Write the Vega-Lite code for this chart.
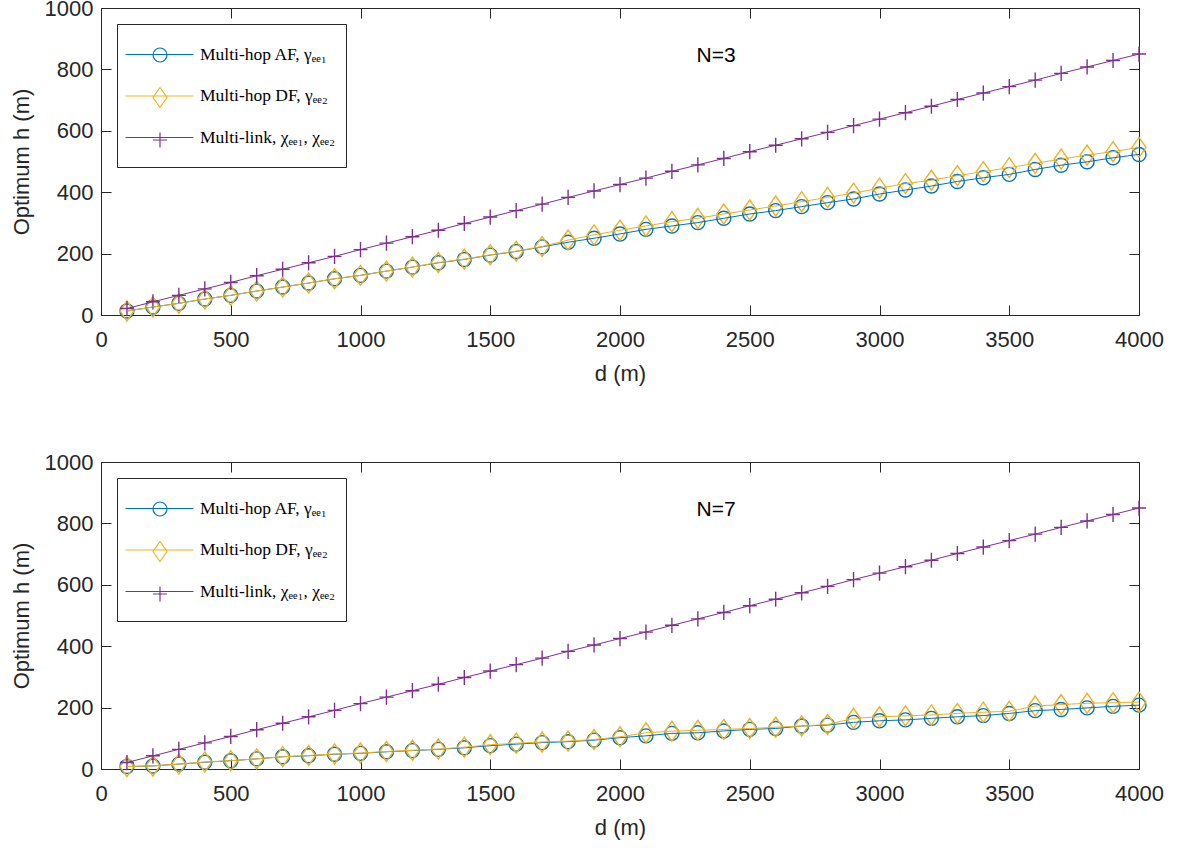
{
  "$schema": "https://vega.github.io/schema/vega-lite/v6.json",
  "padding": {"left": 9, "top": -4, "right": 5, "bottom": 5},
  "background": "white",
  "datasets": {
    "main": [
      {"N":3,"d":100,"AF":13,"DF":13,"ML":21},
      {"N":3,"d":200,"AF":26,"DF":26,"ML":43},
      {"N":3,"d":300,"AF":38,"DF":38,"ML":64},
      {"N":3,"d":400,"AF":52,"DF":52,"ML":85},
      {"N":3,"d":500,"AF":64,"DF":64,"ML":106},
      {"N":3,"d":600,"AF":78,"DF":78,"ML":128},
      {"N":3,"d":700,"AF":91,"DF":91,"ML":149},
      {"N":3,"d":800,"AF":104,"DF":104,"ML":170},
      {"N":3,"d":900,"AF":118,"DF":118,"ML":191},
      {"N":3,"d":1000,"AF":129,"DF":129,"ML":213},
      {"N":3,"d":1100,"AF":143,"DF":143,"ML":234},
      {"N":3,"d":1200,"AF":156,"DF":156,"ML":255},
      {"N":3,"d":1300,"AF":170,"DF":171,"ML":276},
      {"N":3,"d":1400,"AF":181,"DF":182,"ML":298},
      {"N":3,"d":1500,"AF":195,"DF":196,"ML":319},
      {"N":3,"d":1600,"AF":207,"DF":208,"ML":340},
      {"N":3,"d":1700,"AF":222,"DF":223,"ML":361},
      {"N":3,"d":1800,"AF":237,"DF":244,"ML":383},
      {"N":3,"d":1900,"AF":250,"DF":261,"ML":404},
      {"N":3,"d":2000,"AF":264,"DF":276,"ML":425},
      {"N":3,"d":2100,"AF":279,"DF":290,"ML":446},
      {"N":3,"d":2200,"AF":290,"DF":304,"ML":468},
      {"N":3,"d":2300,"AF":301,"DF":315,"ML":489},
      {"N":3,"d":2400,"AF":315,"DF":329,"ML":510},
      {"N":3,"d":2500,"AF":329,"DF":342,"ML":532},
      {"N":3,"d":2600,"AF":340,"DF":355,"ML":553},
      {"N":3,"d":2700,"AF":353,"DF":369,"ML":574},
      {"N":3,"d":2800,"AF":366,"DF":383,"ML":595},
      {"N":3,"d":2900,"AF":378,"DF":397,"ML":617},
      {"N":3,"d":3000,"AF":394,"DF":413,"ML":638},
      {"N":3,"d":3100,"AF":407,"DF":428,"ML":659},
      {"N":3,"d":3200,"AF":420,"DF":439,"ML":680},
      {"N":3,"d":3300,"AF":435,"DF":454,"ML":702},
      {"N":3,"d":3400,"AF":447,"DF":467,"ML":723},
      {"N":3,"d":3500,"AF":458,"DF":480,"ML":744},
      {"N":3,"d":3600,"AF":474,"DF":494,"ML":765},
      {"N":3,"d":3700,"AF":488,"DF":508,"ML":787},
      {"N":3,"d":3800,"AF":499,"DF":521,"ML":808},
      {"N":3,"d":3900,"AF":512,"DF":532,"ML":829},
      {"N":3,"d":4000,"AF":523,"DF":546,"ML":850},
      {"N":7,"d":100,"AF":8,"DF":8,"ML":21},
      {"N":7,"d":200,"AF":10,"DF":10,"ML":43},
      {"N":7,"d":300,"AF":16,"DF":16,"ML":64},
      {"N":7,"d":400,"AF":22,"DF":23,"ML":85},
      {"N":7,"d":500,"AF":27,"DF":27,"ML":106},
      {"N":7,"d":600,"AF":33,"DF":33,"ML":128},
      {"N":7,"d":700,"AF":40,"DF":40,"ML":149},
      {"N":7,"d":800,"AF":43,"DF":44,"ML":170},
      {"N":7,"d":900,"AF":48,"DF":49,"ML":191},
      {"N":7,"d":1000,"AF":51,"DF":52,"ML":213},
      {"N":7,"d":1100,"AF":56,"DF":57,"ML":234},
      {"N":7,"d":1200,"AF":60,"DF":61,"ML":255},
      {"N":7,"d":1300,"AF":64,"DF":65,"ML":276},
      {"N":7,"d":1400,"AF":69,"DF":71,"ML":298},
      {"N":7,"d":1500,"AF":76,"DF":79,"ML":319},
      {"N":7,"d":1600,"AF":81,"DF":84,"ML":340},
      {"N":7,"d":1700,"AF":86,"DF":88,"ML":361},
      {"N":7,"d":1800,"AF":89,"DF":91,"ML":383},
      {"N":7,"d":1900,"AF":94,"DF":96,"ML":404},
      {"N":7,"d":2000,"AF":102,"DF":105,"ML":425},
      {"N":7,"d":2100,"AF":108,"DF":118,"ML":446},
      {"N":7,"d":2200,"AF":116,"DF":123,"ML":468},
      {"N":7,"d":2300,"AF":118,"DF":126,"ML":489},
      {"N":7,"d":2400,"AF":124,"DF":129,"ML":510},
      {"N":7,"d":2500,"AF":129,"DF":132,"ML":532},
      {"N":7,"d":2600,"AF":132,"DF":136,"ML":553},
      {"N":7,"d":2700,"AF":140,"DF":140,"ML":574},
      {"N":7,"d":2800,"AF":143,"DF":145,"ML":595},
      {"N":7,"d":2900,"AF":152,"DF":165,"ML":617},
      {"N":7,"d":3000,"AF":157,"DF":170,"ML":638},
      {"N":7,"d":3100,"AF":160,"DF":173,"ML":659},
      {"N":7,"d":3200,"AF":165,"DF":176,"ML":680},
      {"N":7,"d":3300,"AF":170,"DF":181,"ML":702},
      {"N":7,"d":3400,"AF":174,"DF":185,"ML":723},
      {"N":7,"d":3500,"AF":181,"DF":188,"ML":744},
      {"N":7,"d":3600,"AF":190,"DF":205,"ML":765},
      {"N":7,"d":3700,"AF":194,"DF":210,"ML":787},
      {"N":7,"d":3800,"AF":199,"DF":214,"ML":808},
      {"N":7,"d":3900,"AF":204,"DF":216,"ML":829},
      {"N":7,"d":4000,"AF":208,"DF":218,"ML":850}
    ]
  },
  "config": {
    "font": "Liberation Sans",
    "view": {"stroke": "#262626", "strokeWidth": 1},
    "axis": {
      "grid": false,
      "domain": false,
      "tickSize": -10,
      "tickColor": "#262626",
      "tickWidth": 1,
      "format": "d",
      "labelFlush": false,
      "labelColor": "#262626",
      "labelFont": "Liberation Sans",
      "labelFontSize": 22,
      "titleFont": "Liberation Sans",
      "titleFontSize": 22,
      "titleFontWeight": "normal",
      "titleColor": "#262626"
    },
    "legend": {
      "title": null,
      "padding": 10,
      "rowPadding": 1.5,
      "labelFont": "Liberation Serif",
      "labelFontSize": 17.5,
      "labelColor": "black",
      "labelLimit": 400,
      "symbolSize": 1600,
      "symbolStrokeWidth": 1.2,
      "symbolOffset": 12,
      "labelOffset": 20
    }
  },
  "spacing": 65,
  "resolve": {
    "scale": {"color": "independent", "shape": "independent", "stroke": "independent"},
    "legend": {"color": "independent", "shape": "independent", "stroke": "independent"}
  },
  "vconcat": [
    {
      "width": 1038,
      "height": 307,
      "data": {"name": "main"},
      "transform": [
        {"filter": "datum.N == 3"},
        {"fold": ["AF", "DF", "ML"], "as": ["series", "h"]}
      ],
      "resolve": {"axis": {"x": "independent", "y": "independent"}},
      "layer": [
        {
          "mark": {"type": "point", "filled": false, "strokeWidth": 1.4, "size": 1600, "opacity": 1},
          "encoding": {
            "x": {"field": "d", "type": "quantitative", "scale": {"domain": [0, 4000], "nice": false, "zero": false},
                  "axis": {"orient": "top", "labels": false, "title": null, "values": [0,500,1000,1500,2000,2500,3000,3500,4000]}},
            "y": {"field": "h", "type": "quantitative", "scale": {"domain": [0, 1000], "nice": false, "zero": false},
                  "axis": {"orient": "right", "labels": false, "title": null, "values": [0,200,400,600,800,1000]}},
            "color": {"field": "series", "type": "nominal",
                      "scale": {"domain": ["AF","DF","ML"], "range": ["#0072BD","#EDB120","#7E2F8E"]},
                      "legend": {"orient": "none", "legendX": 16, "legendY": 16, "labelExpr": "''"}},
            "shape": {"field": "series", "type": "nominal",
                      "scale": {"domain": ["AF","DF","ML"], "range": ["M0,-0.835M0,0.835M-0.35,0A0.35,0.35 0 1,1 0.35,0A0.35,0.35 0 1,1 -0.35,0", "M0,-0.835M0,0.835M0,-0.5L0.35,0L0,0.5L-0.35,0Z", "M0,-0.835M0,0.835M-0.35,0H0.35M0,-0.38V0.38"]},
                      "legend": {"orient": "none", "legendX": 16, "legendY": 16, "labelExpr": "''"}}
          }
        },
        {
          "mark": {"type": "line", "strokeWidth": 1},
          "encoding": {
            "x": {"field": "d", "type": "quantitative", "scale": {"domain": [0, 4000], "nice": false, "zero": false},
                  "axis": {"values": [0,500,1000,1500,2000,2500,3000,3500,4000], "title": "d (m)", "labelPadding": 24, "titlePadding": 13}},
            "y": {"field": "h", "type": "quantitative", "scale": {"domain": [0, 1000], "nice": false, "zero": false},
                  "axis": {"values": [0,200,400,600,800,1000], "title": "Optimum h (m)", "labelPadding": 18, "titlePadding": 11}},
            "stroke": {"field": "series", "type": "nominal",
                      "scale": {"domain": ["AF","DF","ML"], "range": ["#0072BD","#EDB120","#7E2F8E"]},
                      "legend": {
                        "orient": "top-left",
                        "offset": 16,
                        "strokeColor": "#262626",
                        "symbolType": "M0,-0.835M0,0.835M-1.7,0H1.7",
                        "symbolStrokeWidth": 1,
                        "labelExpr": "datum.label == 'AF' ? 'Multi-hop AF, γₑₑ₁' : datum.label == 'DF' ? 'Multi-hop DF, γₑₑ₂' : 'Multi-link, χₑₑ₁, χₑₑ₂'"
                      }}
          }
        },
        {
          "data": {"values": [{"t": "N=3"}]},
          "mark": {"type": "text", "fontSize": 21, "font": "Liberation Sans", "color": "black"},
          "encoding": {
            "x": {"datum": 2370, "type": "quantitative", "axis": null},
            "y": {"datum": 845, "type": "quantitative", "axis": null},
            "text": {"field": "t"}
          }
        }
      ]
    },
    {
      "width": 1038,
      "height": 307,
      "data": {"name": "main"},
      "transform": [
        {"filter": "datum.N == 7"},
        {"fold": ["AF", "DF", "ML"], "as": ["series", "h"]}
      ],
      "resolve": {"axis": {"x": "independent", "y": "independent"}},
      "layer": [
        {
          "mark": {"type": "point", "filled": false, "strokeWidth": 1.4, "size": 1600, "opacity": 1},
          "encoding": {
            "x": {"field": "d", "type": "quantitative", "scale": {"domain": [0, 4000], "nice": false, "zero": false},
                  "axis": {"orient": "top", "labels": false, "title": null, "values": [0,500,1000,1500,2000,2500,3000,3500,4000]}},
            "y": {"field": "h", "type": "quantitative", "scale": {"domain": [0, 1000], "nice": false, "zero": false},
                  "axis": {"orient": "right", "labels": false, "title": null, "values": [0,200,400,600,800,1000]}},
            "color": {"field": "series", "type": "nominal",
                      "scale": {"domain": ["AF","DF","ML"], "range": ["#0072BD","#EDB120","#7E2F8E"]},
                      "legend": {"orient": "none", "legendX": 16, "legendY": 16, "labelExpr": "''"}},
            "shape": {"field": "series", "type": "nominal",
                      "scale": {"domain": ["AF","DF","ML"], "range": ["M0,-0.835M0,0.835M-0.35,0A0.35,0.35 0 1,1 0.35,0A0.35,0.35 0 1,1 -0.35,0", "M0,-0.835M0,0.835M0,-0.5L0.35,0L0,0.5L-0.35,0Z", "M0,-0.835M0,0.835M-0.35,0H0.35M0,-0.38V0.38"]},
                      "legend": {"orient": "none", "legendX": 16, "legendY": 16, "labelExpr": "''"}}
          }
        },
        {
          "mark": {"type": "line", "strokeWidth": 1},
          "encoding": {
            "x": {"field": "d", "type": "quantitative", "scale": {"domain": [0, 4000], "nice": false, "zero": false},
                  "axis": {"values": [0,500,1000,1500,2000,2500,3000,3500,4000], "title": "d (m)", "labelPadding": 24, "titlePadding": 13}},
            "y": {"field": "h", "type": "quantitative", "scale": {"domain": [0, 1000], "nice": false, "zero": false},
                  "axis": {"values": [0,200,400,600,800,1000], "title": "Optimum h (m)", "labelPadding": 18, "titlePadding": 11}},
            "stroke": {"field": "series", "type": "nominal",
                      "scale": {"domain": ["AF","DF","ML"], "range": ["#0072BD","#EDB120","#7E2F8E"]},
                      "legend": {
                        "orient": "top-left",
                        "offset": 16,
                        "strokeColor": "#262626",
                        "symbolType": "M0,-0.835M0,0.835M-1.7,0H1.7",
                        "symbolStrokeWidth": 1,
                        "labelExpr": "datum.label == 'AF' ? 'Multi-hop AF, γₑₑ₁' : datum.label == 'DF' ? 'Multi-hop DF, γₑₑ₂' : 'Multi-link, χₑₑ₁, χₑₑ₂'"
                      }}
          }
        },
        {
          "data": {"values": [{"t": "N=7"}]},
          "mark": {"type": "text", "fontSize": 21, "font": "Liberation Sans", "color": "black"},
          "encoding": {
            "x": {"datum": 2370, "type": "quantitative", "axis": null},
            "y": {"datum": 845, "type": "quantitative", "axis": null},
            "text": {"field": "t"}
          }
        }
      ]
    }
  ]
}
